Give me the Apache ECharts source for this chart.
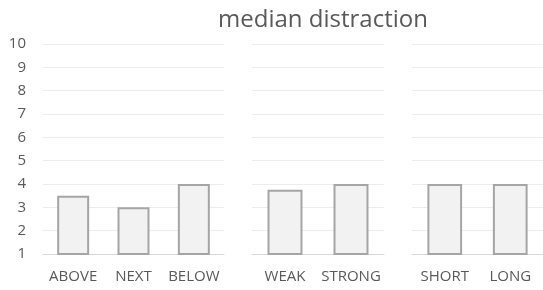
<!DOCTYPE html>
<html>
<head>
<meta charset="utf-8">
<script src="https://cdn.jsdelivr.net/npm/echarts@6/dist/echarts.min.js"></script>
<style>
  html, body { margin: 0; padding: 0; background: #fff; }
  #chart { width: 543px; height: 290px; }
</style>
</head>
<body>
<div id="chart"></div>
<script>
// median distraction, three groups
var positionCats = ['ABOVE', 'NEXT', 'BELOW'];
var positionVals = [3.5, 3, 4];
var strengthCats = ['WEAK', 'STRONG'];
var strengthVals = [3.75, 4];
var durationCats = ['SHORT', 'LONG'];
var durationVals = [4, 4];
var yTicks = [1, 2, 3, 4, 5, 6, 7, 8, 9, 10];

var chart = echarts.init(document.getElementById('chart'));

var txt = '#595959',
    gridCol = '#ececec',
    fontFam = '"Open Sans", sans-serif';

var groups = [
  { cats: positionCats, vals: positionVals, left: 43, width: 181 },
  { cats: strengthCats, vals: strengthVals, left: 252, width: 132 },
  { cats: durationCats, vals: durationVals, left: 412, width: 131 }
];

var grid = [], xAxis = [], yAxis = [], series = [];

groups.forEach(function (g, i) {
  grid.push({ left: g.left, width: g.width, top: 44, height: 210 });
  xAxis.push({
    type: 'category', gridIndex: i, data: g.cats,
    axisLine: { show: true, lineStyle: { color: '#d9d9d9', width: 1 } },
    axisTick: { show: false },
    axisLabel: { color: txt, fontSize: 15, fontFamily: fontFam, margin: 15, interval: 0 }
  });
  yAxis.push({
    type: 'value', gridIndex: i,
    min: yTicks[0], max: yTicks[yTicks.length - 1], interval: 1,
    axisLine: { show: false }, axisTick: { show: false },
    axisLabel: { show: i === 0, color: txt, fontSize: 15, fontFamily: fontFam, margin: 17 },
    splitLine: { show: true, lineStyle: { color: gridCol, width: 1 } }
  });
  series.push({
    type: 'bar', xAxisIndex: i, yAxisIndex: i, data: g.vals,
    barWidth: '53%',
    itemStyle: { color: '#f2f2f2', borderColor: '#a5a5a5', borderWidth: 2 },
    silent: true
  });
});

chart.setOption({
  animation: false,
  title: {
    text: 'median distraction', left: 318, top: 3, textAlign: 'center',
    textStyle: { color: txt, fontSize: 24, fontWeight: 'normal', fontFamily: fontFam }
  },
  grid: grid,
  xAxis: xAxis,
  yAxis: yAxis,
  series: series
});
</script>
</body>
</html>
